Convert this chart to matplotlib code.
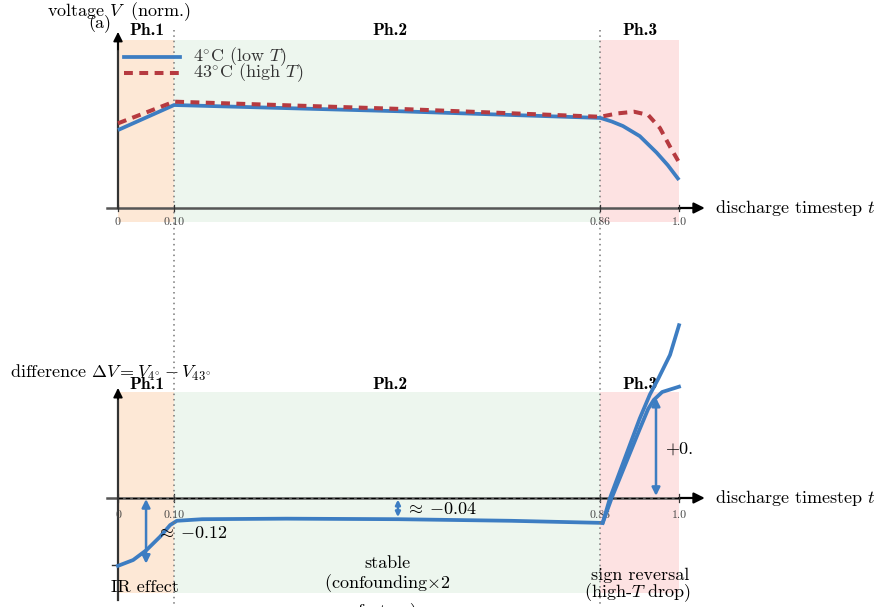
import numpy as np
import matplotlib.pyplot as plt

plt.rcParams['font.family'] = ['cmr10', 'DejaVu Serif']
plt.rcParams['mathtext.fontset'] = 'cm'
plt.rcParams['axes.unicode_minus'] = False

# phase borders and tick labels
phase_edges = [0.0, 0.10, 0.86, 1.0]
phase_names = ['Ph.1', 'Ph.2', 'Ph.3']
phase_colors = ['#fde8d6', '#edf6ee', '#fde2e2']
tick_pos = [0.0, 0.10, 0.86, 1.0]
tick_lab = ['0', '0.10', '0.86', '1.0']

# (a) normalised voltage
t_low = [0, 0.10, 0.50, 0.86, 0.88, 0.90, 0.93, 0.96, 0.98, 1.0]
v_low = [0.464, 0.613, 0.576, 0.536, 0.515, 0.488, 0.428, 0.330, 0.255, 0.167]
t_high = [0, 0.10, 0.50, 0.86, 0.89, 0.92, 0.945, 0.966, 0.984, 1.0]
v_high = [0.504, 0.633, 0.590, 0.543, 0.563, 0.573, 0.554, 0.476, 0.365, 0.272]

# (b) difference
t_diff = [0, 0.027, 0.051, 0.075, 0.093, 0.105, 0.15, 0.30, 0.50, 0.70, 0.864,
          0.88, 0.93, 0.945, 0.955, 0.97, 1.0]
d_diff = [-0.128, -0.117, -0.098, -0.073, -0.051, -0.043, -0.040, -0.039, -0.040,
          -0.043, -0.047, 0.0, 0.130, 0.168, 0.185, 0.200, 0.210]
t_rev = [0.864, 0.877, 0.93, 0.948, 0.963, 0.984, 1.0]
d_rev = [-0.047, 0.0, 0.150, 0.195, 0.225, 0.270, 0.326]

BLUE = '#3d7dc2'
RED = '#b63a40'
AXC = '#555555'
FS = 13

W, H = 878, 607
fig = plt.figure(figsize=(W / 100, H / 100), dpi=100)


def px_axes(x0, x1, y0, y1):
    a = fig.add_axes([x0 / W, 1 - y1 / H, (x1 - x0) / W, (y1 - y0) / H])
    a.axis('off')
    a.patch.set_visible(False)
    return a


def draw_frame(ax, ytop, ybot, ytip, ylow):
    for i in range(3):
        ax.fill_between([phase_edges[i], phase_edges[i + 1]], ybot, ytop,
                        color=phase_colors[i], lw=0, zorder=0)
    ax.plot([-0.02, 1.0], [0, 0], color=AXC, lw=1.8, zorder=2.5)
    ax.annotate('', xy=(1.046, 0), xytext=(1.0, 0),
                arrowprops=dict(arrowstyle='-|>', color='black', lw=1.6,
                                mutation_scale=16, shrinkA=0, shrinkB=0),
                annotation_clip=False)
    ax.plot([0, 0], [ylow, ytip * 0.97], color='#333333', lw=1.6, zorder=2.5)
    ax.annotate('', xy=(0, ytip), xytext=(0, ytip * 0.9),
                arrowprops=dict(arrowstyle='-|>', color='black', lw=1.2,
                                mutation_scale=14, shrinkA=0, shrinkB=0),
                annotation_clip=False)


# ---------- top panel ----------
ax1 = px_axes(0, W, 0, 300)
ax1.set_xlim(-118 / 561, 760 / 561)
ax1.set_ylim((208 - 300) / 168, 208 / 168)
ax1.set_zorder(2)
draw_frame(ax1, 1.0, -0.083, 1.048, 0)
for x in [0.10, 0.86]:
    ax1.plot([x, x], [1.06, -2.4], color='#777777', lw=1.1,
             ls=(0, (1, 2.5)), clip_on=False, zorder=3)
for x, lab in zip(tick_pos, tick_lab):
    ax1.plot([x, x], [-0.02, 0.02], color='#333333', lw=0.9, zorder=3)
    ax1.text(x, -0.083, lab, fontsize=8.5, color='#444444', ha='center', va='center')

ax1.plot(t_low, v_low, color=BLUE, lw=2.7, zorder=4, solid_capstyle='butt')
ax1.plot(t_high, v_high, color=RED, lw=2.9, ls=(0, (2.2, 1.6)), zorder=4)
ax1.plot([0.011, 0.11], [0.899, 0.899], color=BLUE, lw=2.7, zorder=4)
ax1.plot([0.011, 0.11], [0.804, 0.804], color=RED, lw=2.9, ls=(0, (2.2, 1.6)), zorder=4)
ax1.text(0.134, 0.899, r'4$^{\circ}$C (low $T$)', fontsize=FS, va='center', color='#333333')
ax1.text(0.134, 0.804, r'43$^{\circ}$C (high $T$)', fontsize=FS, va='center', color='#333333')

for i, name in enumerate(phase_names):
    xc = [0.052, 0.485, 0.93][i]
    ax1.text(xc, 1.054, name, family='cmb10', fontsize=12.5, ha='center', va='center')
ax1.text(0.002, 1.167, r'voltage $V\;$ (norm.)', fontsize=FS, ha='center', va='center')
ax1.text(-0.032, 1.095, '(a)', fontsize=FS, ha='center', va='center')
ax1.text(1.064, 0, r'discharge timestep $t$', fontsize=FS, va='center')

# ---------- bottom panel ----------
ax2 = px_axes(0, 692, 300, H)
ax2.set_xlim(-118 / 561, 574 / 561)
ax2.set_ylim((498 - 607) / 530, (498 - 300) / 530)
draw_frame(ax2, 0.2, -0.179, 0.2075, -0.192)
ax2.plot([0, 1.0], [0, 0], color='black', lw=0.8, ls=(0, (4, 2.5)), zorder=2.6)
ax2.plot([-0.011, 0], [-0.126, -0.126], color='#333333', lw=1.0)
for x, lab in zip(tick_pos, tick_lab):
    ax2.plot([x, x], [-0.008, 0.008], color='#333333', lw=0.9, zorder=3)
    ax2.text(x, -0.032, lab, fontsize=8.5, color='#444444', ha='center', va='center')

ax2.plot(t_diff, d_diff, color=BLUE, lw=2.7, zorder=4, solid_joinstyle='round')
ax2.plot(t_rev, d_rev, color=BLUE, lw=2.7, zorder=4, solid_joinstyle='round')


def darrow(ax, x, y0, y1, ms=12):
    ax.annotate('', xy=(x, y1), xytext=(x, y0),
                arrowprops=dict(arrowstyle='<|-|>', color=BLUE, lw=1.8,
                                mutation_scale=ms, shrinkA=0, shrinkB=0),
                zorder=5)


darrow(ax2, 0.05, -0.002, -0.124)
darrow(ax2, 0.499, -0.003, -0.036, ms=7)
darrow(ax2, 0.959, 0.004, 0.189)
ax2.text(0.068, -0.066, r'$\approx\;{-}0.12$', fontsize=FS, va='center', zorder=5)
ax2.text(0.512, -0.021, r'$\approx\;{-}0.04$', fontsize=FS, va='center', zorder=5)
ax2.text(0.975, 0.092, '+0.', fontsize=FS, va='center', clip_on=True)

for i, name in enumerate(phase_names):
    xc = [0.052, 0.485, 0.93][i]
    ax2.text(xc, 0.215, name, family='cmb10', fontsize=12.5, ha='center',
             va='center', zorder=1.5)
ax2.text(-0.1925, 0.236, r'difference $\Delta V = V_{4^{\circ}} - V_{43^{\circ}}$',
         fontsize=FS, va='center')
ax2.text(0.048, -0.168, 'IR effect', fontsize=FS, ha='center', va='center')
ax2.text(0.481, -0.123, 'stable', fontsize=FS, ha='center', va='center')
ax2.text(0.481, -0.160, r'(confounding$\times$2', fontsize=FS, ha='center', va='center')
ax2.text(0.481, -0.214, 'factors)', fontsize=FS, ha='center', va='center', clip_on=True)
ax2.text(0.93, -0.145, 'sign reversal', fontsize=FS, ha='center', va='center', clip_on=True)
ax2.text(0.926, -0.178, r'(high-$T$ drop)', fontsize=FS, ha='center', va='center', clip_on=True)
ax2.text(1.064, 0, r'discharge timestep $t$', fontsize=FS, va='center', clip_on=False)

fig.savefig('out.png', dpi=100)
